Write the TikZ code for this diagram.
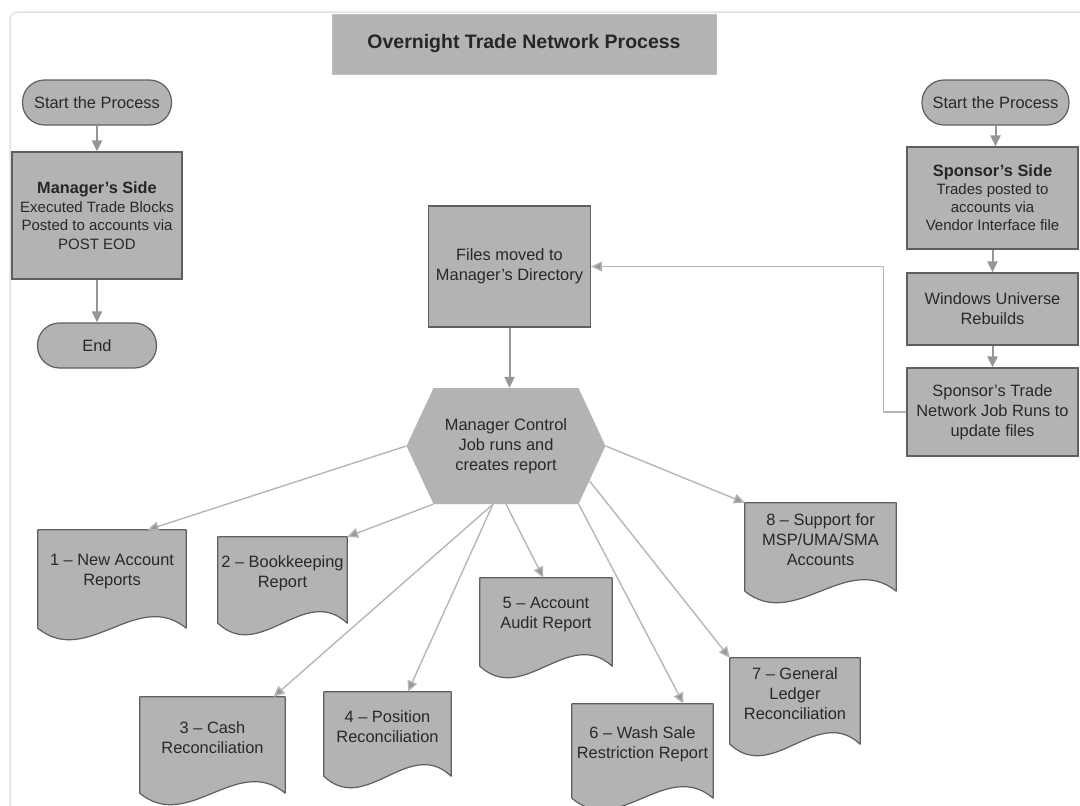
\documentclass[tikz,border=0pt]{standalone}
\usepackage{fontspec}
\setmainfont{Liberation Sans}
\usetikzlibrary{arrows.meta,calc,backgrounds}

\definecolor{boxfill}{RGB}{179,179,179}
\definecolor{boxline}{RGB}{95,95,95}
\definecolor{flowline}{RGB}{150,150,150}
\definecolor{rayline}{RGB}{182,182,182}
\definecolor{frameline}{RGB}{222,226,230}
\definecolor{txt}{RGB}{40,40,40}

\tikzset{
	box/.style={draw=boxline, fill=boxfill, line width=1.2pt, align=center, inner sep=0pt, text=txt, font=\fontsize{16.4}{20}\selectfont},
	term/.style={box, rounded corners=22pt, minimum height=45pt},
	title/.style={fill=boxfill, draw=boxfill!85!white, align=center, inner sep=0pt, text=black!85, font=\fontsize{19.5}{22}\selectfont\bfseries},
	doc/.style={align=center, inner sep=0pt, text=txt, font=\fontsize{16.4}{20}\selectfont},
	job/.style={align=center, inner sep=0pt, text=txt, font=\fontsize{16.4}{20}\selectfont,
		minimum width=199pt, minimum height=116pt,
		path picture={\fill[boxfill] ([xshift=27pt]path picture bounding box.north west)
			-- ([xshift=-27pt]path picture bounding box.north east)
			-- (path picture bounding box.east)
			-- ([xshift=-27pt]path picture bounding box.south east)
			-- ([xshift=27pt]path picture bounding box.south west)
			-- (path picture bounding box.west) -- cycle;}},
	flow/.style={draw=flowline, line width=2pt, -{Triangle[length=11pt,width=10pt]}},
	ray/.style={draw=rayline, line width=1.4pt, -{Triangle[length=11pt,width=10pt,fill=flowline]}},
}

\begin{document}
\begin{tikzpicture}[x=1pt, y=-1pt]

	\useasboundingbox (0,0) rectangle (1080,806);
	\draw[frameline, line width=1.5pt, rounded corners=8pt] (10,830) |- (1100,12);

	\node[title, minimum width=384pt, minimum height=60pt] (hd) at (524,44) {Overnight Trade Network Process};

	% manager's side
	\node[term, minimum width=149pt] (ls) at (97,102.5) {Start the Process};
	\node[box, minimum width=170pt, minimum height=127pt, font=\fontsize{15}{18.5}\selectfont] (ms) at (97,215.5)
		{{\fontsize{16.3}{18.5}\selectfont\bfseries\color{black!85}Manager’s Side}\\Executed Trade Blocks\\Posted to accounts via\\POST EOD};
	\node[term, minimum width=119pt] (le) at (97,345.5) {End};

	% sponsor's side
	\node[term, minimum width=147pt] (rs) at (995.5,102.5) {Start the Process};
	\node[box, minimum width=171pt, minimum height=102pt, font=\fontsize{15}{18}\selectfont] (ss) at (992.5,198)
		{{\fontsize{16.4}{18}\selectfont\bfseries\color{black!85}Sponsor’s Side}\\Trades posted to\\accounts via\\Vendor Interface file};
	\node[box, minimum width=171pt, minimum height=72pt] (wu) at (992.5,309) {Windows Universe\\Rebuilds};
	\node[box, minimum width=171pt, minimum height=88pt] (tj) at (992.5,412) {Sponsor’s Trade\\Network Job Runs to\\update files};

	% middle
	\node[box, minimum width=162pt, minimum height=121pt] (fm) at (509.5,266.5) {Files moved to\\Manager’s Directory};
	\node[job] (job) at (506,446) {Manager Control\\Job runs and\\creates report};

	% reports
	\node[doc, minimum width=148pt, minimum height=84pt] (d1) at (112,572) {1 – New Account\\Reports};
	\node[doc, minimum width=129pt, minimum height=72pt] (d2) at (282.5,573) {2 – Bookkeeping\\Report};
	\node[doc, minimum width=145pt, minimum height=82pt] (d3) at (212.5,738) {3 – Cash\\Reconciliation};
	\node[doc, minimum width=127pt, minimum height=70pt] (d4) at (387.5,727) {4 – Position\\Reconciliation};
	\node[doc, minimum width=132pt, minimum height=74pt] (d5) at (546,615) {5 – Account\\Audit Report};
	\node[doc, minimum width=141pt, minimum height=80pt] (d6) at (642.5,744) {6 – Wash Sale\\Restriction Report};
	\node[doc, minimum width=130pt, minimum height=72pt] (d7) at (795,694) {7 – General\\Ledger\\Reconciliation};
	\node[doc, minimum width=151pt, minimum height=74pt] (d8) at (820.5,540) {8 – Support for\\MSP/UMA/SMA\\Accounts};

	\begin{scope}[on background layer]
	\foreach \d in {d1,d2,d3,d4,d5,d6,d7,d8}
	{
		\coordinate (r) at ([yshift=-14pt]\d.south east);
		\coordinate (l) at ([yshift=-14pt]\d.south west);
		\filldraw[draw=boxline, fill=boxfill, line width=1.2pt, line join=round]
			(\d.north west) -- (\d.north east) -- (r)
			.. controls ($(r)!0.33!(l)+(0,-40)$) and ($(r)!0.67!(l)+(0,40)$) .. (l) -- cycle;
	};
	\end{scope}

	\coordinate (jbl) at ([xshift=27pt]job.south west);
	\coordinate (jbr) at ([xshift=-27pt]job.south east);
	\coordinate (jbm) at ([xshift=-13pt]job.south);
	\coordinate (jse) at ($(job.east)!0.6!(jbr)$);
	\coordinate (t1) at ($(d1.north west)!0.74!(d1.north east)$);
	\coordinate (t3) at ($(d3.north west)!0.92!(d3.north east)$);
	\coordinate (t4) at ($(d4.north west)!0.66!(d4.north east)$);
	\coordinate (t5) at ($(d5.north west)!0.48!(d5.north east)$);
	\coordinate (t6) at ($(d6.north west)!0.79!(d6.north east)$);

	\foreach \i / \j in {
	ls/ms,
	ms/le,
	rs/ss,
	ss/wu,
	wu/tj,
	fm/job}
	{
		\path (\i.south) edge[flow] (\i.south |- \j.north);
	};

	\draw[ray] (tj.west) -- ++(-23,0) |- (fm.east);

	\foreach \i / \j in {
	job.west/t1,
	jbl/d2.north east,
	jbm/t3,
	jbm/t4,
	job.south/t5,
	jbr/t6,
	jse/d7.north west,
	job.east/d8.north west}
	{
		\path (\i) edge[ray] (\j);
	};
\end{tikzpicture}
\end{document}
